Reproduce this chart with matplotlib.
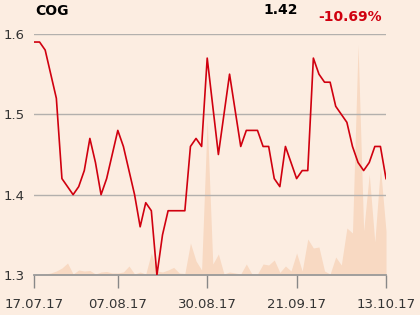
import matplotlib
matplotlib.use("Agg")
import matplotlib.pyplot as plt
import numpy as np

ticker = "COG"
last_price = "1.42"
change = "-10.69%"

prices = [1.59, 1.59, 1.58, 1.55, 1.52, 1.42, 1.41, 1.40, 1.41, 1.43,
          1.47, 1.44, 1.40, 1.42, 1.45, 1.48, 1.46, 1.43, 1.40, 1.36,
          1.39, 1.38, 1.30, 1.35, 1.38, 1.38, 1.38, 1.38, 1.46, 1.47,
          1.46, 1.57, 1.51, 1.45, 1.50, 1.55, 1.505, 1.46, 1.48, 1.48,
          1.48, 1.46, 1.46, 1.42, 1.41, 1.46, 1.44, 1.42, 1.43, 1.43,
          1.57, 1.55, 1.54, 1.54, 1.51, 1.50, 1.49, 1.46, 1.44, 1.43,
          1.44, 1.46, 1.46, 1.42]

volume = [0.5, 0.5, 1, 2, 4, 7, 12, 1, 5, 4,
          4.5, 1, 3, 3.5, 2, 2, 3, 9, 1, 3,
          1, 22, 4, 3, 5, 7.6, 2, 1.5, 32, 14,
          5, 155, 11, 21, 1, 3, 2, 1, 11, 1,
          1, 11, 10, 15, 2.6, 9, 4, 22, 4, 36,
          27, 28, 4, 1, 18, 10, 47, 42, 230, 44,
          101, 33, 108, 44]

tick_idx = [0, 15, 31, 47, 63]
tick_labels = ["17.07.17", "07.08.17", "30.08.17", "21.09.17", "13.10.17"]
y_ticks = [1.3, 1.4, 1.5, 1.6]

bg = "#fcede1"
red = "#d0000f"

fig = plt.figure(figsize=(4.2, 3.15), dpi=100, facecolor=bg)
ax = fig.add_axes([34/420, 1-275/315, 352/420, 241/315])
ax.set_facecolor(bg)

x = np.arange(len(prices))

axv = ax.twinx()
axv.fill_between(x, 0, volume, color="#f8d9c2", linewidth=0, zorder=1)
axv.set_ylim(0, 241)
axv.axis("off")
ax.set_zorder(axv.get_zorder() + 1)
ax.patch.set_visible(False)
fig.patch.set_facecolor(bg)

for yv in y_ticks[1:]:
    ax.axhline(yv, color="#b3b0ad", linewidth=1.0, zorder=2)

ax.plot(x, prices, color=red, linewidth=1.2, zorder=3)

ax.set_xlim(0, len(prices) - 1)
ax.set_ylim(1.3, 1.6)
ax.set_yticks(y_ticks)
ax.set_yticklabels([f"{v:.1f}" for v in y_ticks])
ax.set_xticks(tick_idx)
ax.set_xticklabels(tick_labels)

for s in ["left", "right", "top"]:
    ax.spines[s].set_visible(False)
ax.spines["bottom"].set_color("#999999")
ax.spines["bottom"].set_linewidth(1.3)

ax.tick_params(axis="y", length=0, pad=7, labelsize=9.5, labelcolor="#333333")
ax.tick_params(axis="x", length=9.5, width=1.0, color="#888888", pad=7,
               labelsize=9.5, labelcolor="#333333")

fig.text(35/420, 1-11/315, ticker, fontsize=10, fontweight="bold",
         color="black", ha="left", va="center")
fig.text(281/420, 1-10/315, last_price, fontsize=10, fontweight="bold",
         color="black", ha="center", va="center")
fig.text(382/420, 1-17/315, change, fontsize=10, fontweight="bold",
         color=red, ha="right", va="center")

fig.savefig("out.png", dpi=100, facecolor=bg)
